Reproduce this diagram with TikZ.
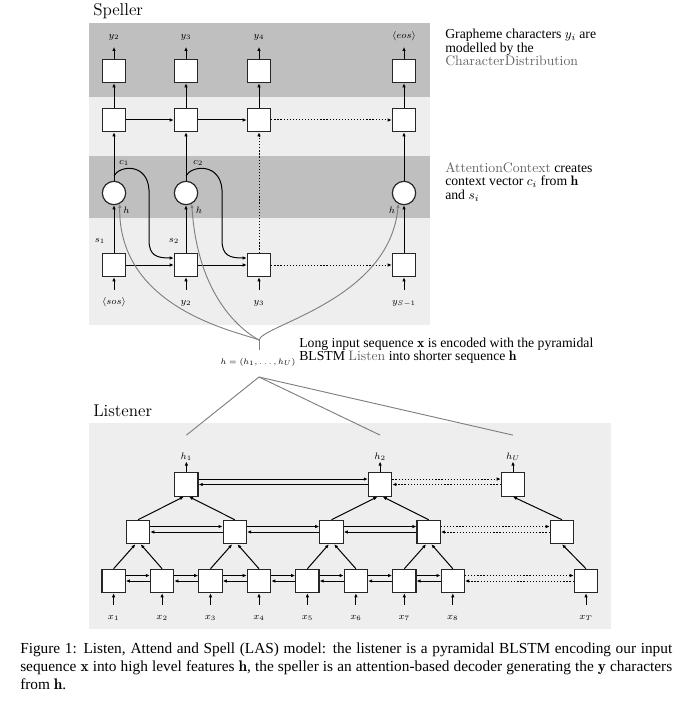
\documentclass[tikz,border=0pt]{standalone}
\usepackage{fontspec}
\usepackage{amsmath}
\newfontfamily\tms{Liberation Serif}
\usetikzlibrary{arrows.meta}
\definecolor{band}{gray}{0.75}
\definecolor{paleband}{gray}{0.933}
\definecolor{wire}{gray}{0.5}
\definecolor{soft}{gray}{0.38}

\begin{document}
\begin{tikzpicture}[x=0.75pt,y=-0.75pt,
  cell/.style={draw=black!85,line width=0.9pt,fill=white,minimum size=17.5pt,inner sep=0pt},
  attn/.style={circle,draw=black!85,line width=0.9pt,fill=white,minimum size=17.5pt,inner sep=0pt},
  lbl/.style={font=\fontsize{6.8}{8}\selectfont,inner sep=0pt,text height=4.8pt,text depth=1.6pt},
  tip/.style={-{Latex[length=3pt,width=2.6pt]}},
  conn/.style={tip,line width=0.75pt},
  dconn/.style={conn,dash pattern=on 0.9pt off 1.4pt},
  gconn/.style={tip,line width=0.7pt,draw=wire},
  gline/.style={line width=0.7pt,draw=wire},
  note/.style={font=\tms\fontsize{10.3}{10}\selectfont,align=left,anchor=north west,inner sep=0pt},
  ttl/.style={font=\fontsize{12.8}{14}\selectfont,anchor=base west,inner sep=0pt},
]
\useasboundingbox (0,0) rectangle (690,706);

% ---------------- Speller ----------------
\fill[band]     (89,23)  rectangle (430,97);
\fill[paleband] (89,97)  rectangle (430,156);
\fill[band]     (89,156) rectangle (430,218);
\fill[paleband] (89,218) rectangle (430,325);
\node[ttl] (spt) at (93,16) {Speller};

\foreach \i/\x in {1/114,2/186,3/259,4/404}{
  \node[cell] (out\i) at (\x,71) {};
  \node[cell] (dec\i) at (\x,120) {};
  \node[cell] (st\i) at (\x,265) {};
}
\foreach \i/\x in {1/114,2/186,4/404}
  \node[attn] (att\i) at (\x,193) {};

\node[lbl] (yo1) at (114,36) {$y_2$};
\node[lbl] (yo2) at (186,36) {$y_3$};
\node[lbl] (yo3) at (259,36) {$y_4$};
\node[lbl] (yo4) at (404,36) {$\langle eos\rangle$};
\node[lbl] (yi1) at (114,302) {$\langle sos\rangle$};
\node[lbl] (yi2) at (186,302) {$y_2$};
\node[lbl] (yi3) at (259,302) {$y_3$};
\node[lbl] (yi4) at (404,302) {$y_{S-1}$};

\foreach \i in {1,...,4}{
  \draw[conn,shorten >=4.8pt] (out\i) -- (yo\i);
  \draw[conn] (dec\i) -- (out\i);
  \draw[conn,shorten <=5.8pt] (yi\i) -- (st\i);
}
\foreach \i in {1,2,4}{
  \draw[conn] (st\i) -- (att\i);
  \draw[conn] (att\i) -- (dec\i);
}
\draw[dconn] (st3) -- (dec3);
\draw[conn] (dec1) -- (dec2);
\draw[conn] (dec2) -- (dec3);
\draw[dconn] (dec3) -- (dec4);
\draw[conn] (st1) -- (st2);
\draw[conn] (st2) -- (st3);
\draw[dconn] (st3) -- (st4);

% context vectors
\draw[conn] ([yshift=3.75pt]att1.north) .. controls (120,165) and (147.5,163) .. (149,190)
  -- (149,240) .. controls (149,256) and (157,258) .. ([yshift=5.25pt]st2.west);
\draw[conn] ([yshift=3.75pt]att2.north) .. controls (192,165) and (220.5,163) .. (222,190)
  -- (222,240) .. controls (222,256) and (230,258) .. ([yshift=5.25pt]st3.west);

\node[lbl] (c1) at (124,162.5) {$c_1$};
\node[lbl] (c2) at (198,162.5) {$c_2$};
\node[lbl] (s1) at (100,240.5) {$s_1$};
\node[lbl] (s2) at (174,240.5) {$s_2$};
\node[lbl] (ha1) at (126.5,211.5) {$h$};
\node[lbl] (ha2) at (199,211.5) {$h$};
\node[lbl] (ha4) at (392,211.5) {$h$};

% listener output fed to the attention
\coordinate (hj) at (259,340);
\coordinate (hstem) at (259,350);
\coordinate (hfan) at (259,377);
\node[lbl,font=\fontsize{6.3}{8}\selectfont] (hseq) at (258,362) {$h=(h_1,\ldots,h_U)$};
\draw[gline] (hstem) -- (hj);
\draw[gconn] (hj) .. controls (240,332) and (118,310) .. (att1.-62);
\draw[gconn] (hj) .. controls (250,335) and (198,305) .. (att2.-62);
\draw[gconn] (hj) .. controls (262,325) and (390,300) .. (att4.-118);

% ---------------- Listener ----------------
\fill[paleband] (89,423) rectangle (611,629);
\node[ttl] (lst) at (93,416.5) {Listener};

\foreach \i/\x/\t in {1/113.6/1,2/162.1/2,3/210.5/3,4/259/4,5/307.4/5,6/355.9/6,7/404.3/7,8/452.8/8,9/586/T}{
  \node[cell] (b\i) at (\x,581) {};
  \node[lbl] (x\i) at (\x,617) {$x_{\t}$};
  \draw[conn,shorten <=5.8pt] (x\i) -- (b\i);
}
\foreach \i/\x in {1/138,2/234.8,3/331.5,4/428.7,5/562}
  \node[cell] (m\i) at (\x,532) {};
\foreach \i/\x/\t in {1/186.4/1,2/380.1/2,3/513/U}{
  \node[cell] (t\i) at (\x,484.5) {};
  \node[lbl] (lh\i) at (\x,457) {$h_{\t}$};
  \draw[conn] (t\i) -- (lh\i);
}

% forward / backward links
\foreach \a/\b in {b1/b2,b2/b3,b3/b4,b4/b5,b5/b6,b6/b7,b7/b8,m1/m2,m2/m3,m3/m4,t1/t2}{
  \draw[conn] ([yshift=4.1pt]\a.east) -- ([yshift=4.1pt]\b.west);
  \draw[conn] (\b.west) -- (\a.east);
}
\foreach \a/\b in {b8/b9,m4/m5,t2/t3}{
  \draw[dconn] ([yshift=4.1pt]\a.east) -- ([yshift=4.1pt]\b.west);
  \draw[dconn] (\b.west) -- (\a.east);
}

% pyramid reduction
\foreach \l/\r/\p in {b1/b2/m1,b3/b4/m2,b5/b6/m3,b7/b8/m4,m1/m2/t1,m3/m4/t2}{
  \draw[conn] (\l.north) -- ([xshift=-2pt]\p.south);
  \draw[conn] (\r.north) -- ([xshift=2pt]\p.south);
}
\draw[conn] (b9.north) -- (m5.south);
\draw[conn] (m5.north) -- (t3.south);

% fan-out of the encoded sequence
\draw[gline] (hfan) -- ([yshift=13pt]lh1.north);
\draw[gline] (hfan) -- ([yshift=13pt]lh2.north);
\draw[gline] (hfan) -- ([yshift=13pt]lh3.north);

% ---------------- notes ----------------
\node[note] (n1) at (445,29) {Grapheme characters $y_i$ are\\modelled by the\\{\normalfont\color{soft}CharacterDistribution}};
\node[note] (n2) at (445,162.5) {{\normalfont\color{soft}AttentionContext} creates\\context vector $c_i$ from $\mathbf{h}$\\and $s_i$};
\node[note] (n3) at (299,337.5) {Long input sequence $\mathbf{x}$ is encoded with the pyramidal\\BLSTM {\normalfont\color{soft}Listen} into shorter sequence $\mathbf{h}$};

\node[anchor=north west,inner sep=0pt,text width=489pt,align=justify,font=\tms\fontsize{11.5}{13.5}\selectfont] (cap) at (20,643)
  {Figure 1: Listen, Attend and Spell (LAS) model: the listener is a pyramidal BLSTM encoding our input sequence $\mathbf{x}$ into high level features $\mathbf{h}$, the speller is an attention-based decoder generating the $\mathbf{y}$ characters from $\mathbf{h}$.};
\end{tikzpicture}
\end{document}
